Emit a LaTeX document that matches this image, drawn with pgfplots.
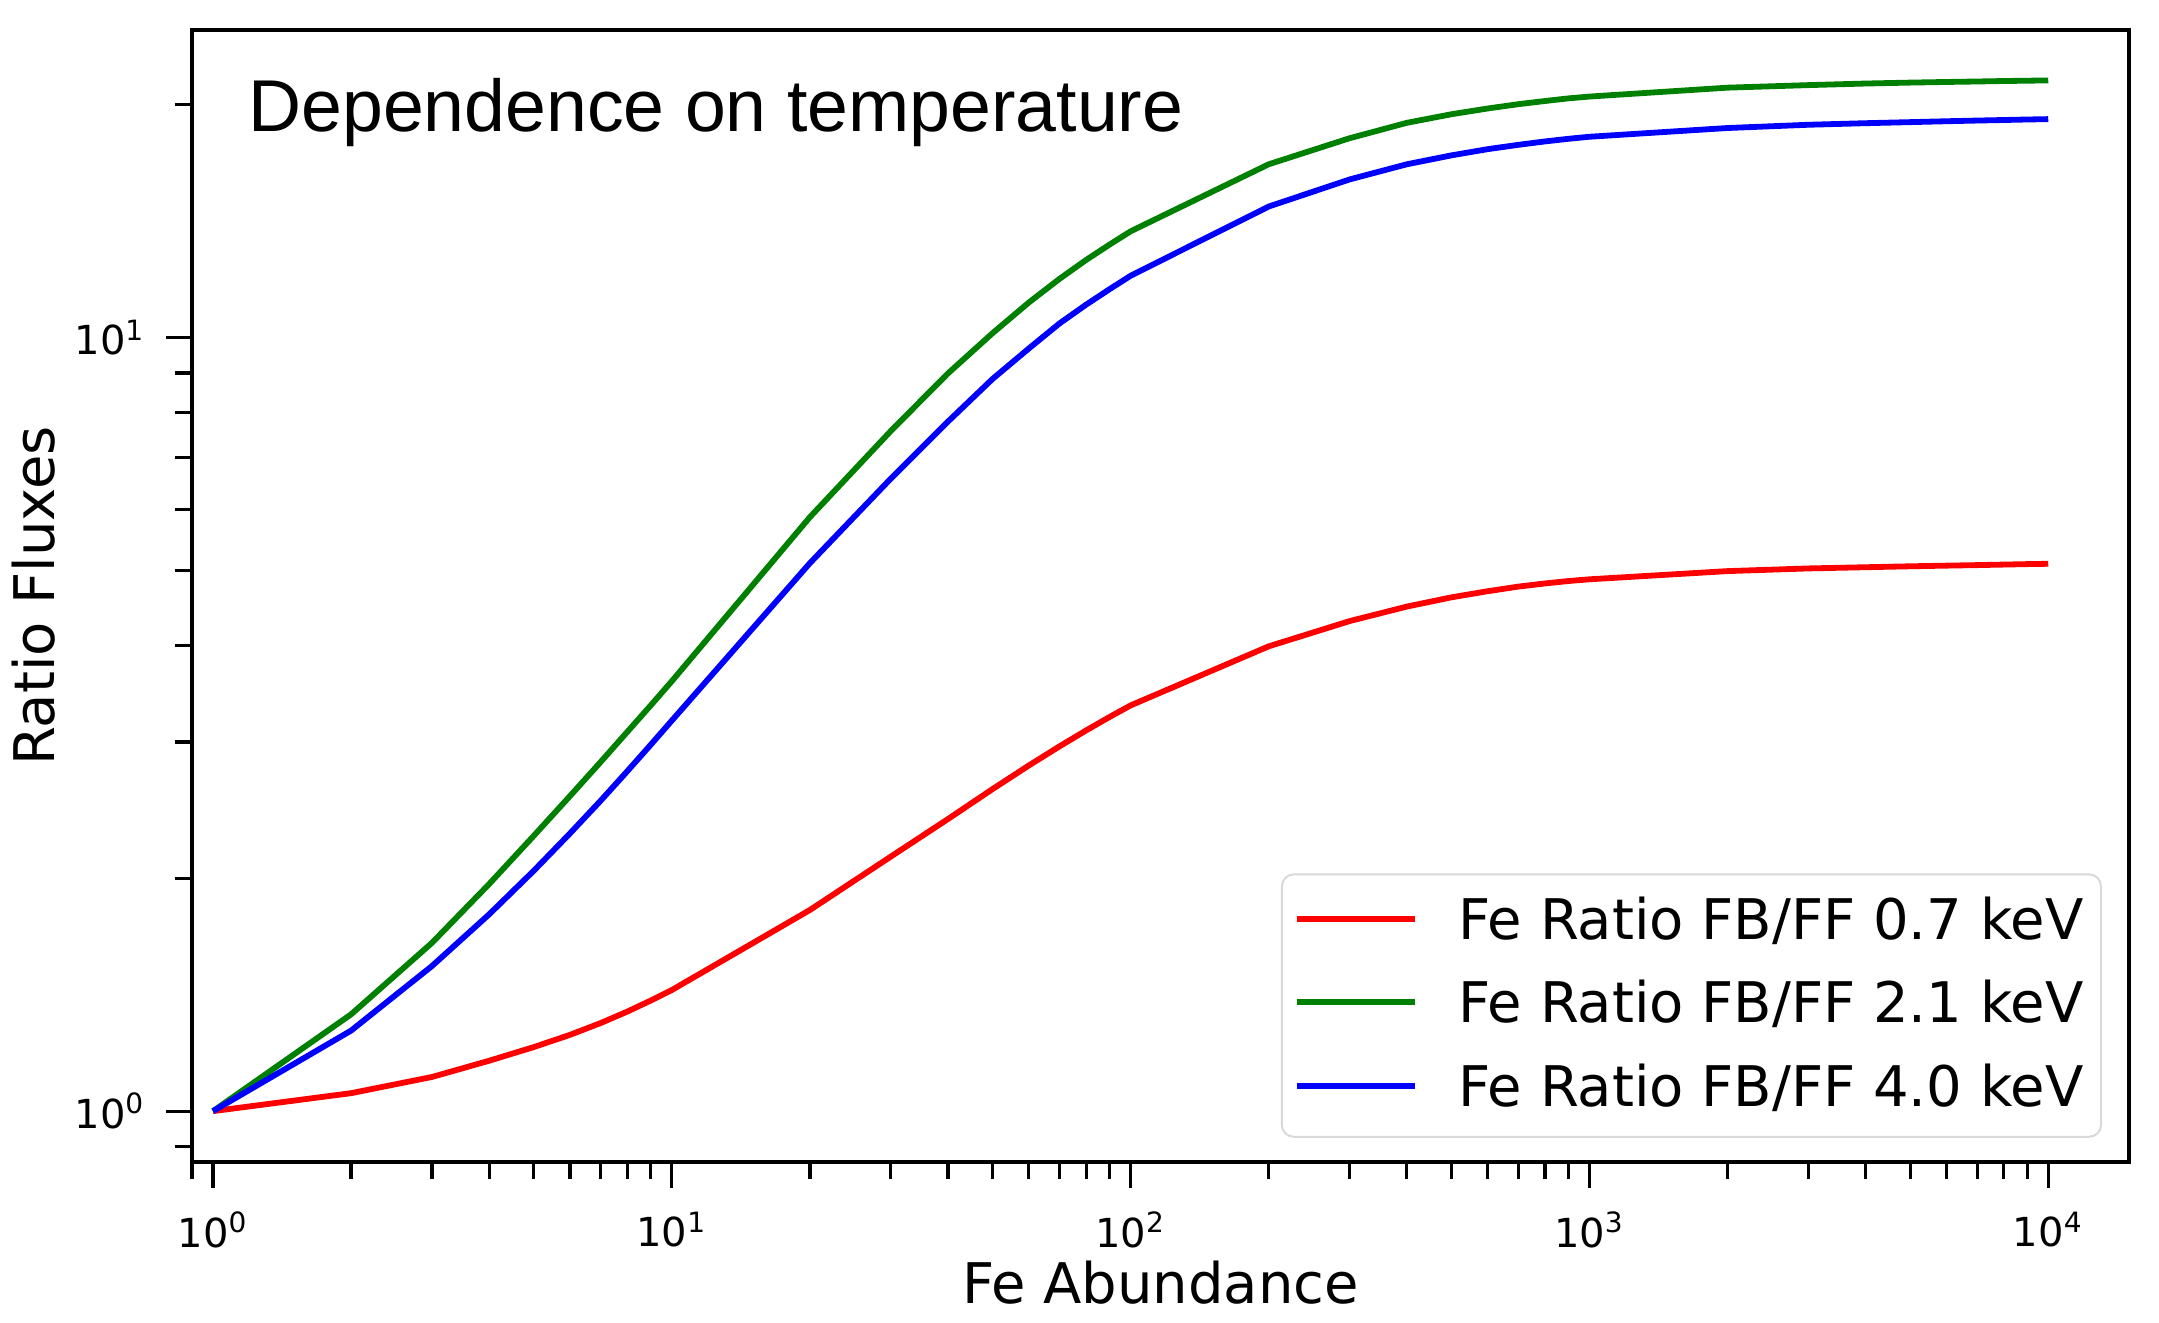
\documentclass[border=0pt]{standalone}
\usepackage{pgfplots}
\pgfplotsset{compat=1.18}
\usepackage{pgfplotstable}
\usepackage{fontspec}
\setmainfont{DejaVu Sans}
\newfontfamily\titlefont{Liberation Sans}
\definecolor{mplgreen}{rgb}{0,0.5,0}

\pgfplotstableread{
x r g b
1 1.0 1.0 1.0
2 1.055 1.334 1.271
3 1.107 1.65 1.54
4 1.162 1.967 1.797
5 1.21 2.269 2.045
6 1.255 2.555 2.286
7 1.30 2.828 2.52
8 1.345 3.093 2.751
9 1.39 3.347 2.977
10 1.434 3.596 3.198
20 1.82 5.86 5.11
30 2.133 7.57 6.57
40 2.386 8.99 7.79
50 2.608 10.13 8.84
60 2.798 11.10 9.68
70 2.962 11.91 10.43
80 3.106 12.6 11.03
90 3.233 13.19 11.55
100 3.346 13.72 12.02
200 3.99 16.75 14.77
300 4.30 18.1 16.01
400 4.49 18.95 16.75
500 4.615 19.44 17.20
600 4.70 19.78 17.52
700 4.765 20.03 17.75
800 4.81 20.22 17.93
900 4.845 20.38 18.07
1000 4.87 20.49 18.18
2000 4.99 21.04 18.66
3000 5.03 21.2 18.84
4000 5.048 21.3 18.93
5000 5.062 21.36 18.99
6000 5.072 21.4 19.04
7000 5.08 21.43 19.08
8000 5.088 21.46 19.11
9000 5.095 21.48 19.14
10000 5.10 21.5 19.16
}\datatable

\begin{document}
\begin{tikzpicture}
\begin{loglogaxis}[
  at={(0,0)}, anchor=south west,
  scale only axis,
  width=484.25pt, height=283pt,
  xmin=0.9, xmax=15000,
  ymin=0.8596, ymax=24.98,
  axis line style={line width=0.85pt},
  tick align=outside,
  xtick pos=left, ytick pos=left,
  major tick length=6.5pt,
  minor tick length=4.3pt,
  every tick/.style={black, line width=0.8pt},
  xtick={1,10,100,1000,10000},
  xticklabels={10\textsuperscript{0},10\textsuperscript{1},10\textsuperscript{2},10\textsuperscript{3},10\textsuperscript{4}},
  minor xtick={0.9,2,3,4,5,6,7,8,9,20,30,40,50,60,70,80,90,200,300,400,500,600,700,800,900,2000,3000,4000,5000,6000,7000,8000,9000},
  ytick={1,10},
  yticklabels={10\textsuperscript{0},10\textsuperscript{1}},
  minor ytick={0.9,2,3,4,5,6,7,8,9,20},
  ticklabel style={font=\fontsize{10}{12}\selectfont, inner sep=0pt},
  xticklabel style={anchor=north, yshift=-5.75pt},
  yticklabel style={anchor=east, xshift=-5pt},
  xlabel={Fe Abundance},
  ylabel={Ratio Fluxes},
  label style={font=\fontsize{14}{16}\selectfont, inner sep=0pt},
  xlabel style={at={(axis description cs:0.5,-0.1254)}, anchor=base},
  ylabel style={at={(axis description cs:-0.0710,0.5)}, anchor=base, rotate=0},
  legend cell align=left,
  legend image code/.code={\draw[#1] (0pt,5.1pt) -- (29.5pt,5.1pt);},
  legend style={at={(axis description cs:1,0)}, anchor=south east,
    xshift=-6.75pt, yshift=6.05pt,
    draw=black!15, rounded corners=3pt, line width=0.5pt,
    font=\fontsize{14}{16}\selectfont,
    inner xsep=3pt, inner ysep=5pt,
    row sep=7.1pt, column sep=8.85pt,
    nodes={inner xsep=1.4pt, inner ysep=0pt, text height=11.2pt, text depth=2.6pt, anchor=base west}},
]
\addplot[red, line width=1.45pt, line join=round] table[x=x, y=r] {\datatable};
\addlegendentry{Fe Ratio FB/FF 0.7 keV}
\addplot[mplgreen, line width=1.45pt, line join=round] table[x=x, y=g] {\datatable};
\addlegendentry{Fe Ratio FB/FF 2.1 keV}
\addplot[blue, line width=1.45pt, line join=round] table[x=x, y=b] {\datatable};
\addlegendentry{Fe Ratio FB/FF 4.0 keV}
\node[anchor=base west, inner sep=0pt, font=\titlefont\fontsize{18.36}{22}\selectfont] at (rel axis cs:0.0287,0.9106) {Dependence on temperature};
\end{loglogaxis}
\pgfresetboundingbox
\path (-48pt,-40.25pt) rectangle (491.75pt,290.5pt);
\end{tikzpicture}
\end{document}
